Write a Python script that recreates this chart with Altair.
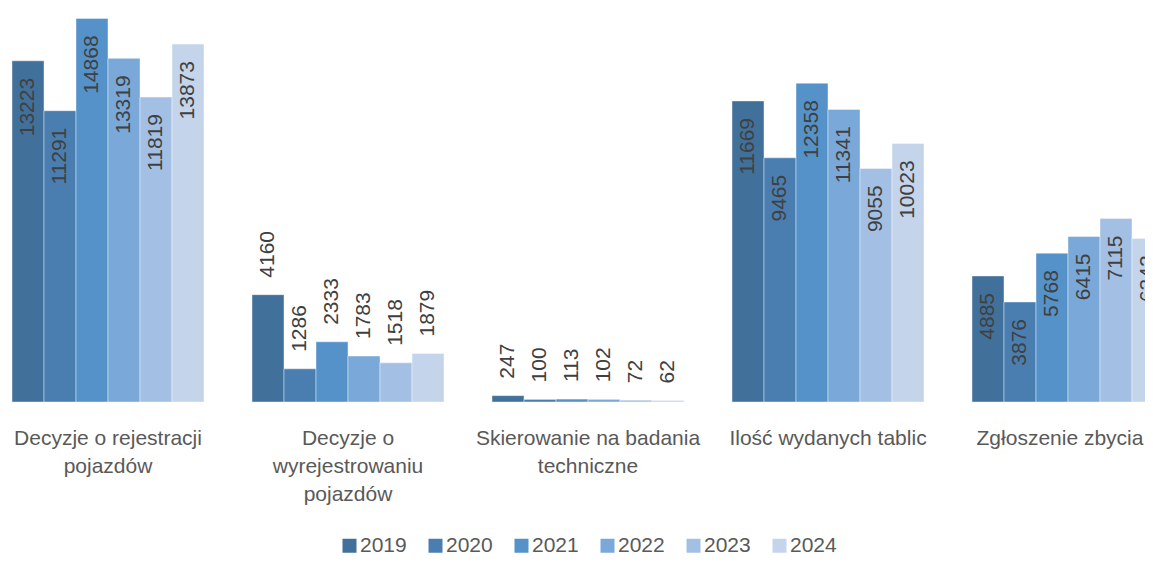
import altair as alt
import pandas as pd

categories = [
    "Decyzje o rejestracji\npojazdów",
    "Decyzje o\nwyrejestrowaniu\npojazdów",
    "Skierowanie na badania\ntechniczne",
    "Ilość wydanych tablic",
    "Zgłoszenie zbycia",
]
years = ["2019", "2020", "2021", "2022", "2023", "2024"]
v2019 = [13223, 4160, 247, 11669, 4885]
v2020 = [11291, 1286, 100, 9465, 3876]
v2021 = [14868, 2333, 113, 12358, 5768]
v2022 = [13319, 1783, 102, 11341, 6415]
v2023 = [11819, 1518, 72, 9055, 7115]
v2024 = [13873, 1879, 62, 10023, 6342]
colors = ["#41709B", "#4A7EB0", "#5592CA", "#7AA8D8", "#A3C0E4", "#C4D4EB"]

series = [v2019, v2020, v2021, v2022, v2023, v2024]
rows = []
for y, vals in zip(years, series):
    for c, v in zip(categories, vals):
        rows.append({"kategoria": c, "rok": y, "wartosc": v})
df = pd.DataFrame(rows)

FONT = "Liberation Sans"

base = alt.Chart(df).encode(
    x=alt.X(
        "kategoria:N",
        sort=categories,
        scale=alt.Scale(range=[4, 1156], paddingInner=0.2, paddingOuter=0),
        axis=alt.Axis(
            title=None,
            labelExpr="split(datum.label, '\\n')",
            labelFont=FONT,
            labelFontSize=21,
            labelColor="#595959",
            labelLineHeight=28,
            labelPadding=25,
            labelLimit=400,
            labelAngle=0,
            labelOffset=alt.ExprRef(expr="datum.value == 'Zgłoszenie zbycia' ? -8 : 0"),
            ticks=False,
            domain=False,
            grid=False,
        ),
    ),
    xOffset=alt.XOffset("rok:N", sort=years, scale=alt.Scale(paddingInner=0, paddingOuter=0)),
    y=alt.Y("wartosc:Q", scale=alt.Scale(domain=[0, 15000]), axis=None),
)

bars = base.mark_bar(clip=True, stroke="white", strokeWidth=0.7, strokeOpacity=0.6).encode(
    color=alt.Color(
        "rok:N",
        sort=years,
        scale=alt.Scale(domain=years, range=colors),
        legend=alt.Legend(
            title=None,
            orient="none",
            legendX=331,
            legendY=520,
            direction="horizontal",
            columns=6,
            symbolType="square",
            symbolSize=196,
            symbolStrokeWidth=0,
            labelFont=FONT,
            labelFontSize=21,
            labelColor="#595959",
            labelOffset=0,
            columnPadding=18,
            padding=0,
        ),
    )
)

labels = base.transform_joinaggregate(mx="max(wartosc)", groupby=["kategoria"])

inside = labels.transform_filter("datum.mx > 5000").mark_text(
    angle=270, align="right", baseline="middle", dx=-17,
    font=FONT, fontSize=21, color="#404040", clip=True,
).encode(text=alt.Text("wartosc:Q", format="d"))

outside = labels.transform_filter("datum.mx <= 5000").mark_text(
    angle=270, align="left", baseline="middle", dx=17,
    font=FONT, fontSize=21, color="#404040", clip=True,
).encode(text=alt.Text("wartosc:Q", format="d"))

chart = (
    alt.layer(bars, inside, outside)
    .properties(
        width=1137,
        height=387,
        autosize=alt.AutoSizeParams(type="none"),
        padding={"left": 0, "top": 7, "right": 0, "bottom": 154},
        background="white",
    )
    .configure_view(stroke=None)
)

chart.save("out.html", embed_options={"renderer": "svg", "actions": False})
